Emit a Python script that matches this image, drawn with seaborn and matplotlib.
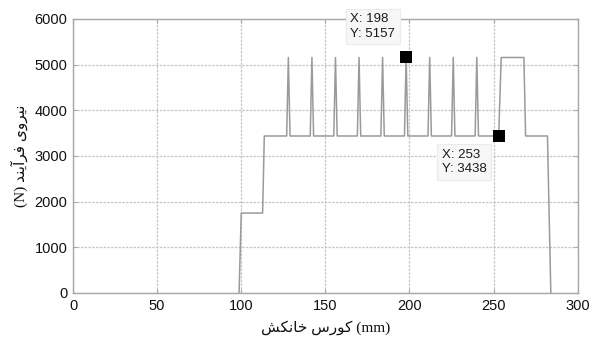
import matplotlib
matplotlib.use("Agg")
import matplotlib.pyplot as plt
import seaborn as sns
import pandas as pd

# Broaching force trace: stroke position (mm) and process force (N)
stroke_mm = [98.7, 100, 112.7, 113.7,
             127, 128, 129, 141, 142, 143, 155, 156, 157,
             169, 170, 171, 183, 184, 185, 197, 198, 199,
             211, 212, 213, 225, 226, 227, 239, 240, 241,
             253, 254.5, 268, 269, 282, 284]
force_n = [0, 1750, 1750, 3438,
           3438, 5157, 3438, 3438, 5157, 3438, 3438, 5157, 3438,
           3438, 5157, 3438, 3438, 5157, 3438, 3438, 5157, 3438,
           3438, 5157, 3438, 3438, 5157, 3438, 3438, 5157, 3438,
           3438, 5157, 5157, 3438, 3438, 0]

# Data tips
tip_x = [198, 253]
tip_y = [5157, 3438]
tip_offsets_px = [(-56, 44), (-57, -13)]

x_ticks = [0, 50, 100, 150, 200, 250, 300]
y_ticks = [0, 1000, 2000, 3000, 4000, 5000, 6000]

# Persian labels written in visual (presentation-form) order
x_label = "\uFEB6\uFB91\uFEE7\uFE8E\uFEA7 \uFEB1\uFEAD\uFEEE\uFB90 (mm)"
y_label = "(N) \uFEAA\uFEE8\uFBFE\uFE81\uFEAE\uFED3 \uFBFC\uFEED\uFEAE\uFBFF\uFEE7"

sns.set_style("white")
plt.rcParams["font.family"] = ["Liberation Sans", "DejaVu Sans"]

df = pd.DataFrame({"stroke": stroke_mm, "force": force_n})
tips = pd.DataFrame({"stroke": tip_x, "force": tip_y})

fig = plt.figure(figsize=(5.95, 3.41), dpi=100)
ax = fig.add_axes([0.1227, 0.1408, 0.8483, 0.8035])

sns.lineplot(data=df, x="stroke", y="force", sort=False, estimator=None,
             color="#9a9a9a", linewidth=1.1, ax=ax)
sns.scatterplot(data=tips, x="stroke", y="force", marker="s", s=70,
                color="black", edgecolor="black", linewidth=0, zorder=5, ax=ax)

for tx, ty, (dx, dy) in zip(tip_x, tip_y, tip_offsets_px):
    ax.annotate(f"X: {tx}\nY: {ty}", xy=(tx, ty), xytext=(dx, dy),
                textcoords="offset pixels", ha="left", va="top",
                fontsize=9.5, color="#1a1a1a", linespacing=1.25,
                annotation_clip=False,
                bbox=dict(boxstyle="square,pad=0.35", fc="#f7f7f7",
                          ec="#ebebeb", lw=0.8))

ax.set_xlim(0, 300)
ax.set_ylim(0, 6000)
ax.set_xticks(x_ticks)
ax.set_yticks(y_ticks)
ax.grid(True, color="#c6c6c6", linestyle=(0, (2, 1)), linewidth=0.9)
ax.set_axisbelow(True)
for sp in ax.spines.values():
    sp.set_color("#a8a8a8")
    sp.set_linewidth(1.0)
ax.tick_params(direction="in", length=3, color="#a8a8a8", labelsize=10.5,
               labelcolor="#111111", top=True, right=True,
               bottom=True, left=True, pad=4)

ax.set_xlabel(x_label, family=["Liberation Serif", "DejaVu Sans"],
              fontsize=11, labelpad=6, color="#111111")
ax.set_ylabel(y_label, family=["Liberation Serif", "DejaVu Sans"],
              fontsize=11, labelpad=5, color="#111111")

fig.savefig("out.png", dpi=100, facecolor="white")
